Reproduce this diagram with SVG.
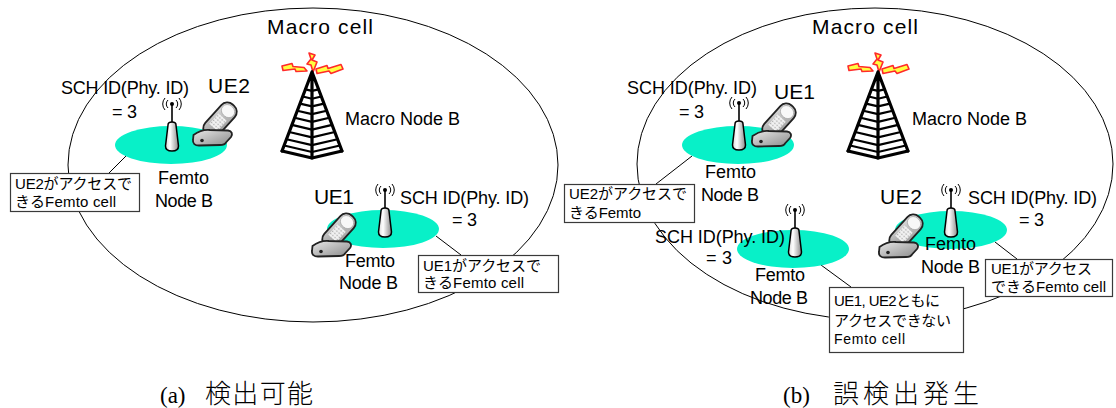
<svg xmlns="http://www.w3.org/2000/svg" width="1116" height="408" viewBox="0 0 1116 408">
  <style>
    text { font-family: "Liberation Sans", "Noto Sans CJK JP", sans-serif; font-size: 18px; fill: #000; }
    .big { font-size: 21px; }
    .jp { font-size: 15px; }
    .sm { font-size: 14px; }
    .cap { font-family: "Liberation Serif", "Noto Sans CJK JP", serif; font-size: 23px; }
    .capj { font-family: "Noto Sans CJK JP", sans-serif; font-size: 26px; font-weight: 300; }
    .macro { fill: none; stroke: #000; stroke-width: 1; }
    .femto { fill: #08f0c8; }
    .note { fill: #fff; stroke: #3a3a3a; stroke-width: 1.2; }
    .link { stroke: #000; stroke-width: 1; fill: none; }
  </style>
  <defs>
    <linearGradient id="gBody" x1="0" y1="0" x2="1" y2="0">
      <stop offset="0" stop-color="#d8d8d8"/>
      <stop offset="0.35" stop-color="#ffffff"/>
      <stop offset="1" stop-color="#8c8c8c"/>
    </linearGradient>
    <linearGradient id="gPhone" x1="0" y1="0" x2="1" y2="1">
      <stop offset="0" stop-color="#e8e8e8"/>
      <stop offset="1" stop-color="#8a8a8a"/>
    </linearGradient>
    <pattern id="keys" width="3" height="3" patternUnits="userSpaceOnUse">
      <rect width="3" height="3" fill="#f2f2f2"/>
      <circle cx="1.5" cy="1.5" r="0.8" fill="#a8a8a8"/>
    </pattern>
    <!-- femto access point: mast top at origin -->
    <g id="ap">
      <path d="M-4,-4 A5.5,5.5 0 0 0 -4,4 M-7,-6 A9,9 0 0 0 -7,6 M4,-4 A5.5,5.5 0 0 1 4,4 M7,-6 A9,9 0 0 1 7,6" fill="none" stroke="#000" stroke-width="1"/>
      <line x1="0" y1="0" x2="0" y2="19" stroke="#000" stroke-width="1.6"/>
      <circle r="2" fill="#000"/>
      <path d="M-4,21 Q-4,18 0,18 Q4,18 4,21 L6.5,42 Q6.5,47 0,47 Q-6.5,47 -6.5,42 Z" fill="url(#gBody)" stroke="#000" stroke-width="1.5"/>
    </g>
    <!-- flip handset, about 44x44 -->
    <g id="handset">
      <g transform="translate(27,18) rotate(42)">
        <rect x="-9" y="-20" width="18" height="40" rx="8" fill="url(#gPhone)" stroke="#222" stroke-width="1.8"/>
        <rect x="-7" y="-18" width="14" height="12" rx="6.5" fill="#f8f8f8" stroke="#999" stroke-width="0.6"/>
        <rect x="-5.5" y="-4" width="11" height="14" fill="url(#keys)"/>
      </g>
      <path d="M0.5,33 C6,29 12,27.5 17,28 L35,28.5 C39,29 40,32 38,35 L33,40.5 C32,42.5 30,43 27,43 L6,43.5 C2,43.5 -0.5,41.5 0,38 Z" fill="url(#gPhone)" stroke="#222" stroke-width="1.8"/>
      <circle cx="9" cy="38.5" r="1.8" fill="#222"/>
    </g>
    <!-- lattice mast with radio flashes, apex at origin -->
    <g id="mast">
      <g fill="#ffff40" stroke="#ff2a2a" stroke-width="1.6" stroke-linejoin="round">
        <polygon points="-30,-6 -20,-8.5 -19,-5.5 -8,-4.5 -5,-1 -16,-0.5 -17,-3 -29,-1.5"/>
        <polygon points="-3,-19 3,-17 0,-12 5,-10 1,0 -1,-7 -5,-8 -1,-13"/>
        <polygon points="4,-3 15,-6.5 16,-3.5 29,-7.5 31,-3 19,1.5 17,-1 5,1.5"/>
      </g>
      <g fill="none" stroke="#000" stroke-linejoin="round" stroke-linecap="round">
        <path d="M0,0 L-30,79 M0,0 L30,79 M0,0 L0,86" stroke-width="3.2"/>
        <path d="M-30,79 L0,86 L30,79" stroke-width="3"/>
        <path stroke-width="2.2" d="M-6.6,17.4 L0,18.9 L6.6,17.4 M-9.3,24.5 L0,26.7 L9.3,24.5 M-12,31.6 L0,34.4 L12,31.6 M-14.7,38.7 L0,42.1 L14.7,38.7 M-17.4,45.8 L0,49.9 L17.4,45.8 M-20.1,52.9 L0,57.6 L20.1,52.9 M-22.8,60 L0,65.4 L22.8,60 M-25.5,67.2 L0,73.1 L25.5,67.2 M-27.9,73.5 L0,80 L27.9,73.5"/>
      </g>
    </g>
  </defs>

  <rect width="1116" height="408" fill="#fff"/>

  <!-- (a) left panel -->
  <g id="macro-cell-a">
    <ellipse class="macro" cx="313" cy="165" rx="245" ry="157"/>
    <text class="big" x="267" y="34" textLength="106">Macro cell</text>
  </g>
  <g id="connectors-a">
    <line class="link" x1="126" y1="156" x2="109" y2="173"/>
    <line class="link" x1="436" y1="236" x2="461" y2="255"/>
  </g>
  <g id="macro-node-a">
    <use href="#mast" x="312" y="72"/>
    <text x="345" y="125" textLength="115">Macro Node B</text>
  </g>
  <g id="femto-a1">
    <ellipse class="femto" cx="171" cy="145" rx="56" ry="19"/>
    <use href="#ap" x="172" y="104"/>
    <text x="61" y="94" textLength="128">SCH ID(Phy. ID)</text>
    <text x="112" y="118" textLength="25">= 3</text>
    <text x="158" y="184" textLength="51">Femto</text>
    <text x="155" y="207" textLength="58">Node B</text>
  </g>
  <g id="ue2-a">
    <use href="#handset" x="193" y="102"/>
    <text class="big" x="208" y="93" textLength="42">UE2</text>
  </g>
  <g id="femto-a2">
    <ellipse class="femto" cx="383" cy="229" rx="56" ry="19"/>
    <use href="#ap" x="385" y="190"/>
    <text x="400" y="204" textLength="129">SCH ID(Phy. ID)</text>
    <text x="452" y="226" textLength="25">= 3</text>
    <text x="345" y="267" textLength="50">Femto</text>
    <text x="339" y="289" textLength="59">Node B</text>
  </g>
  <g id="ue1-a">
    <use href="#handset" x="312" y="213"/>
    <text class="big" x="314" y="204" textLength="40">UE1</text>
  </g>
  <g id="note-a1">
    <rect class="note" x="10.5" y="173.5" width="129" height="38"/>
    <text class="jp" x="15" y="189" textLength="117">UE2がアクセスで</text>
    <text class="jp" x="15" y="207" textLength="101">きるFemto cell</text>
  </g>
  <g id="note-a2">
    <rect class="note" x="418.5" y="255.5" width="140" height="37"/>
    <text class="jp" x="423" y="271" textLength="118">UE1がアクセスで</text>
    <text class="jp" x="423" y="288" textLength="101">きるFemto cell</text>
  </g>
  <g id="caption-a">
    <text class="cap" x="160" y="403">(a)</text>
    <text class="capj" x="205" y="403" textLength="108">検出可能</text>
  </g>

  <!-- (b) right panel -->
  <g id="macro-cell-b">
    <ellipse class="macro" cx="875" cy="164" rx="238" ry="156"/>
    <text class="big" x="812" y="34" textLength="106">Macro cell</text>
  </g>
  <g id="connectors-b">
    <line class="link" x1="692" y1="156" x2="656" y2="184"/>
    <line class="link" x1="821" y1="265" x2="851" y2="287"/>
    <line class="link" x1="995" y1="242" x2="1017" y2="259"/>
  </g>
  <g id="macro-node-b">
    <use href="#mast" x="878" y="72"/>
    <text x="912" y="125" textLength="115">Macro Node B</text>
  </g>
  <g id="femto-b1">
    <ellipse class="femto" cx="738" cy="145" rx="56" ry="19"/>
    <use href="#ap" x="739" y="103"/>
    <text x="627" y="94" textLength="130">SCH ID(Phy. ID)</text>
    <text x="679" y="118" textLength="25">= 3</text>
    <text x="705" y="178" textLength="51">Femto</text>
    <text x="701" y="201" textLength="58">Node B</text>
  </g>
  <g id="ue1-b">
    <use href="#handset" x="752" y="103"/>
    <text class="big" x="774" y="99" textLength="41">UE1</text>
  </g>
  <g id="femto-b2">
    <ellipse class="femto" cx="793" cy="249" rx="56" ry="19"/>
    <use href="#ap" x="795" y="210"/>
    <text x="655" y="243" textLength="130">SCH ID(Phy. ID)</text>
    <text x="706" y="264" textLength="26">= 3</text>
    <text x="755" y="281" textLength="50">Femto</text>
    <text x="750" y="304" textLength="58">Node B</text>
  </g>
  <g id="femto-b3">
    <ellipse class="femto" cx="951" cy="230" rx="56" ry="19"/>
    <use href="#ap" x="951" y="190"/>
    <text x="968" y="204" textLength="129">SCH ID(Phy. ID)</text>
    <text x="1019" y="226" textLength="25">= 3</text>
  </g>
  <g id="ue2-b">
    <use href="#handset" x="879" y="214"/>
    <text class="big" x="880" y="204" textLength="42">UE2</text>
  </g>
  <g id="femto-b3-label">
    <text x="925" y="250" textLength="51">Femto</text>
    <text x="921" y="273" textLength="59">Node B</text>
  </g>
  <g id="note-b1">
    <rect class="note" x="564.5" y="184.5" width="130" height="38"/>
    <text class="jp" x="569" y="199" textLength="118">UE2がアクセスで</text>
    <text class="jp" x="569" y="218" textLength="72">きるFemto</text>
  </g>
  <g id="note-b2">
    <rect class="note" x="829.5" y="287.5" width="134" height="65"/>
    <text class="jp" x="834" y="306" textLength="106">UE1, UE2ともに</text>
    <text class="jp" x="834" y="326" textLength="117">アクセスできない</text>
    <text class="sm" x="834" y="344" textLength="71">Femto cell</text>
  </g>
  <g id="note-b3">
    <rect class="note" x="985.5" y="259.5" width="127" height="37"/>
    <text class="jp" x="991" y="274" textLength="101">UE1がアクセス</text>
    <text class="jp" x="991" y="292" textLength="115">できるFemto cell</text>
  </g>
  <g id="caption-b">
    <text class="cap" x="783" y="403">(b)</text>
    <text class="capj" x="833" y="403" textLength="146">誤検出発生</text>
  </g>
</svg>
